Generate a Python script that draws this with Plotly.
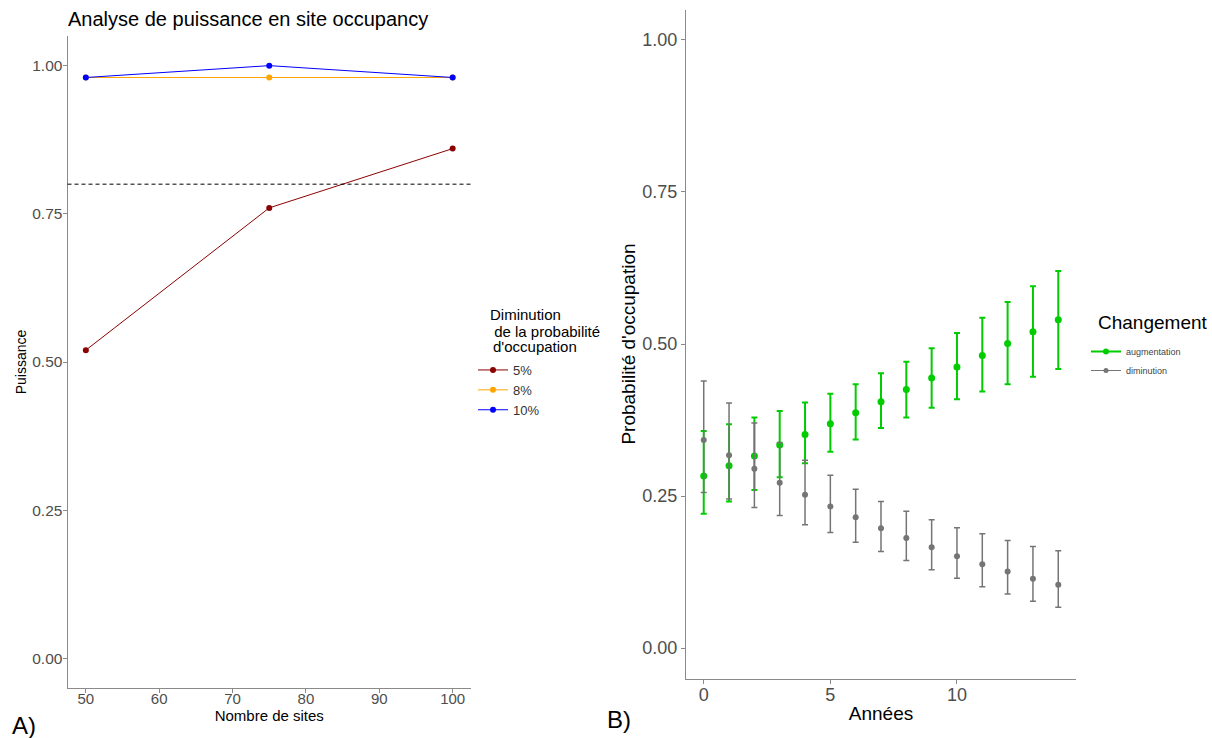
import plotly.graph_objects as go

# ---------- Panel A data ----------
sites = [50, 75, 100]
power_5 = [0.52, 0.76, 0.86]
power_8 = [0.98, 0.98, 0.98]
power_10 = [0.98, 1.00, 0.98]
threshold = 0.8

# ---------- Panel B data ----------
years = list(range(15))
aug_mean = [0.283, 0.300, 0.316, 0.334, 0.351, 0.369, 0.387, 0.405, 0.425, 0.444, 0.462, 0.481, 0.501, 0.520, 0.540]
aug_high = [0.357, 0.368, 0.379, 0.390, 0.404, 0.418, 0.434, 0.452, 0.471, 0.493, 0.518, 0.543, 0.569, 0.595, 0.620]
aug_low = [0.221, 0.241, 0.260, 0.281, 0.304, 0.323, 0.343, 0.362, 0.379, 0.395, 0.409, 0.422, 0.434, 0.446, 0.459]
dim_mean = [0.342, 0.317, 0.295, 0.272, 0.252, 0.233, 0.215, 0.197, 0.181, 0.166, 0.151, 0.138, 0.126, 0.114, 0.104]
dim_high = [0.439, 0.403, 0.370, 0.338, 0.309, 0.284, 0.261, 0.241, 0.225, 0.211, 0.198, 0.188, 0.177, 0.167, 0.160]
dim_low = [0.256, 0.245, 0.231, 0.218, 0.203, 0.190, 0.174, 0.159, 0.144, 0.129, 0.115, 0.101, 0.089, 0.077, 0.067]

W, H = 1212, 738
FONT = "Liberation Sans, Arial, sans-serif"
TICK = "#4d4d4d"
AXL = "#8a8a8a"

fig = go.Figure()

for name, vals, col in [("5%", power_5, "darkred"), ("8%", power_8, "orange"), ("10%", power_10, "blue")]:
    fig.add_trace(go.Scatter(x=sites, y=vals, mode="lines+markers", name=name,
                             line=dict(color=col, width=1), marker=dict(color=col, size=6),
                             xaxis="x", yaxis="y", legend="legend"))

GREEN = "#00cd00"
GREY = "#757575"
fig.add_trace(go.Scatter(x=years, y=aug_mean, mode="markers", name="augmentation", showlegend=False,
                         marker=dict(color=GREEN, size=7),
                         error_y=dict(type="data", symmetric=False,
                                      array=[h - m for h, m in zip(aug_high, aug_mean)],
                                      arrayminus=[m - l for m, l in zip(aug_mean, aug_low)],
                                      color=GREEN, thickness=2, width=3),
                         xaxis="x2", yaxis="y2"))
fig.add_trace(go.Scatter(x=years, y=dim_mean, mode="markers", name="diminution", showlegend=False,
                         marker=dict(color=GREY, size=6),
                         error_y=dict(type="data", symmetric=False,
                                      array=[h - m for h, m in zip(dim_high, dim_mean)],
                                      arrayminus=[m - l for m, l in zip(dim_mean, dim_low)],
                                      color=GREY, thickness=1.5, width=3),
                         xaxis="x2", yaxis="y2"))
# legend entries (point + range line look)
fig.add_trace(go.Scatter(x=[None], y=[None], mode="lines+markers", name="augmentation",
                         line=dict(color=GREEN, width=2), marker=dict(color=GREEN, size=6),
                         xaxis="x2", yaxis="y2", legend="legend2"))
fig.add_trace(go.Scatter(x=[None], y=[None], mode="lines+markers", name="diminution",
                         line=dict(color=GREY, width=1), marker=dict(color=GREY, size=5),
                         xaxis="x2", yaxis="y2", legend="legend2"))

fig.add_shape(type="line", xref="x domain", yref="y", x0=0, x1=1, y0=threshold, y1=threshold,
              line=dict(color="black", width=1, dash="4px,3px"))

axis_common = dict(showgrid=False, zeroline=False, showline=True, linecolor=AXL, linewidth=1,
                   ticks="outside", ticklen=4, tickcolor=AXL)


def txt(text, x, y, size, color="black"):
    return dict(text=text, x=x / W, y=1 - y / H, xref="paper", yref="paper",
                xanchor="left", yanchor="middle", showarrow=False, font=dict(size=size, color=color))


fig.update_layout(
    width=W, height=H, autosize=False,
    margin=dict(l=0, r=0, t=0, b=0),
    paper_bgcolor="white", plot_bgcolor="white",
    font=dict(family=FONT, color="black"),
    xaxis=dict(domain=[67.5 / W, 471 / W], range=[47.5, 102.5], anchor="y",
               tickvals=[50, 60, 70, 80, 90, 100], **axis_common,
               tickfont=dict(color=TICK, family=FONT, size=15), ticklabelstandoff=-7,
               title=dict(text="Nombre de sites", font=dict(size=15), standoff=0)),
    yaxis=dict(domain=[1 - 688 / H, 1 - 36 / H], range=[-0.05, 1.05], anchor="x",
               tickvals=[0, 0.25, 0.5, 0.75, 1.0], ticktext=["0.00", "0.25", "0.50", "0.75", "1.00"],
               **axis_common, tickfont=dict(color=TICK, family=FONT, size=15.5), ticklabelstandoff=-3,
               title=dict(text="Puissance", font=dict(size=14), standoff=2)),
    xaxis2=dict(domain=[686 / W, 1076 / W], range=[-0.7, 14.7], anchor="y2",
                tickvals=[0, 5, 10], **axis_common,
                tickfont=dict(color=TICK, family=FONT, size=18), ticklabelstandoff=-4,
                title=dict(text="Années", font=dict(size=19), standoff=2)),
    yaxis2=dict(domain=[1 - 678.5 / H, 1 - 9.5 / H], range=[-0.05, 1.05], anchor="x2",
                tickvals=[0, 0.25, 0.5, 0.75, 1.0], ticktext=["0.00", "0.25", "0.50", "0.75", "1.00"],
                **axis_common, tickfont=dict(color=TICK, family=FONT, size=18),
                title=dict(text="Probabilité d'occupation", font=dict(size=19), standoff=1)),
    legend=dict(x=473 / W, xanchor="left", y=1 - 355 / H, yanchor="top",
                font=dict(size=13, color="#333333"), bgcolor="rgba(0,0,0,0)", itemwidth=30),
    legend2=dict(x=1086 / W, xanchor="left", y=1 - 337 / H, yanchor="top",
                 font=dict(size=9, color="#444444"), bgcolor="rgba(0,0,0,0)", itemwidth=30),
    annotations=[
        txt("Analyse de puissance en site occupancy", 66, 19, 20),
        txt("A)", 10, 725, 24),
        txt("B)", 605, 719, 24),
        txt("Diminution", 488, 315, 15),
        txt(" de la probabilité", 488, 331, 15),
        txt("d'occupation", 491, 347, 15),
        txt("Changement", 1096, 322, 19),
    ],
)

fig.write_html("out.html", config={"displayModeBar": False},
               post_script="document.body.style.margin='0';document.body.style.overflow='hidden';")
